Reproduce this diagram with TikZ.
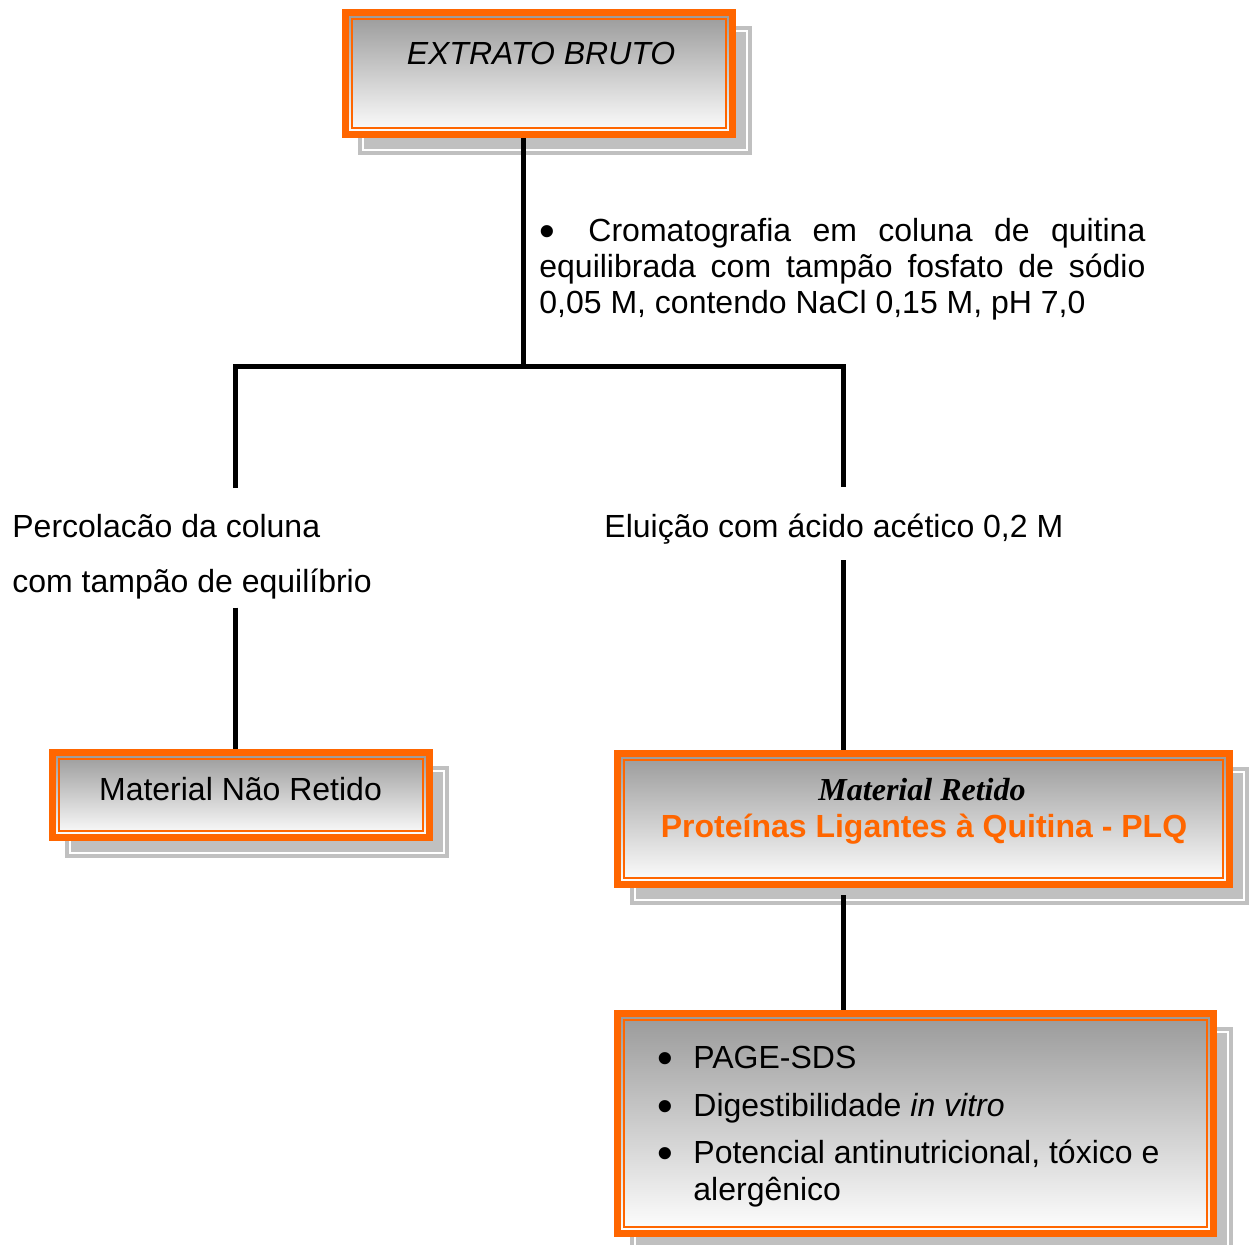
\documentclass[tikz,border=0pt]{standalone}
\usepackage{fontspec}
\setmainfont{Liberation Sans}
\newfontfamily\timesfont{Liberation Serif}
\usetikzlibrary{calc,positioning,backgrounds}
\definecolor{laranja}{HTML}{FF6600}
\definecolor{cinza}{HTML}{999999}
\definecolor{sombra}{HTML}{C0C0C0}
\newcommand{\bala}{\raisebox{-2.5pt}{\scalebox{1.4}{\textbullet}}}

\begin{document}
\begin{tikzpicture}[x=0.5pt, y=-0.5pt]
		\tikzstyle{every node}=[inner sep=0pt, font=\fontsize{16pt}{18pt}\selectfont]
		\tikzstyle{caixa}=[draw=laranja, line width=3.5pt, top color=cinza, bottom color=white,
			path picture={\draw [laranja, line width=0.7pt] ([shift={(3.3pt,3.3pt)}]path picture bounding box.south west) rectangle ([shift={(-3.3pt,-3.3pt)}]path picture bounding box.north east);}]
		\tikzstyle{liga}=[line width=2.5pt, black]
		\useasboundingbox (0,0) rectangle (1251,1245);
		% caixas
		\node [caixa, minimum width=193.5pt, minimum height=61pt] (bruto) at (539,73.5) {};
		\node [caixa, minimum width=188.5pt, minimum height=42.5pt] (naoret) at (241,795) {};
		\node [caixa, minimum width=306pt, minimum height=65.5pt] (retido) at (923.5,819) {};
		\node [caixa, minimum width=298pt, minimum height=110pt] (ensaios) at (915.5,1123.5) {};
		\begin{scope}[on background layer]
			\foreach \b in {bruto,naoret,retido,ensaios}{
				\fill [sombra] ([shift={(8pt,-8.5pt)}]\b.north west) rectangle ([shift={(8pt,-8.5pt)}]\b.south east);
				\draw [white, line width=0.6pt] ([shift={(10.5pt,-11pt)}]\b.north west) rectangle ([shift={(5.5pt,-6pt)}]\b.south east);
			}
		\end{scope}
		% textos
		\node [anchor=base, font=\fontsize{16pt}{18pt}\selectfont\itshape] (brutotxt) at (541,65) {EXTRATO BRUTO};
		\node [anchor=north west, text width=303pt, align=justify] (croma) at (539,218) {\bala\hspace{6pt} Cromatografia em coluna de quitina\linebreak equilibrada com tampão fosfato de sódio 0,05 M, contendo NaCl 0,15 M, pH 7,0};
		\node [anchor=north west, align=left, font=\fontsize{16pt}{27.5pt}\selectfont] (perc) at (12,514) {Percolacão da coluna\\com tampão de equilíbrio};
		\node [anchor=base west] (elui) at (604,537) {Eluição com ácido acético 0,2 M};
		\node [anchor=base] (naorettxt) at (240.5,800) {Material Não Retido};
		\node [anchor=base, font=\timesfont\bfseries\itshape\fontsize{16pt}{18pt}\selectfont] (retidotxt) at (922,800) {Material Retido};
		\node [anchor=base, text=laranja, font=\bfseries\fontsize{16pt}{18pt}\selectfont] (plq) at (924,837) {Proteínas Ligantes à Quitina - PLQ};
		\node [anchor=north west, align=left, font=\fontsize{16pt}{18.5pt}\selectfont] (lista) at (657,1046) {\makebox[18pt][l]{\bala}PAGE-SDS\\[5.25pt]
			\makebox[18pt][l]{\bala}Digestibilidade \textit{in vitro}\\[5.25pt]
			\makebox[18pt][l]{\bala}Potencial antinutricional, tóxico e\\
			\makebox[18pt][l]{}alergênico};
		% ligacoes
		\coordinate (split) at (523,367);
		\coordinate (esq) at (235,367);
		\coordinate (dir) at (843,367);
		\draw [liga] (bruto.south -| split) -- (split);
		\draw [liga, shorten <=13pt, shorten >=13pt] (perc.north -| esq) -- (esq) -- (dir) -- (elui.north -| dir);
		\draw [liga, shorten <=4pt] (perc.south -| esq) -- (naoret.north -| esq);
		\draw [liga, shorten <=8pt] (elui.south -| dir) -- (retido.north -| dir);
		\draw [liga, shorten <=3.5pt] (retido.south -| dir) -- (ensaios.north -| dir);
\end{tikzpicture}
\end{document}
